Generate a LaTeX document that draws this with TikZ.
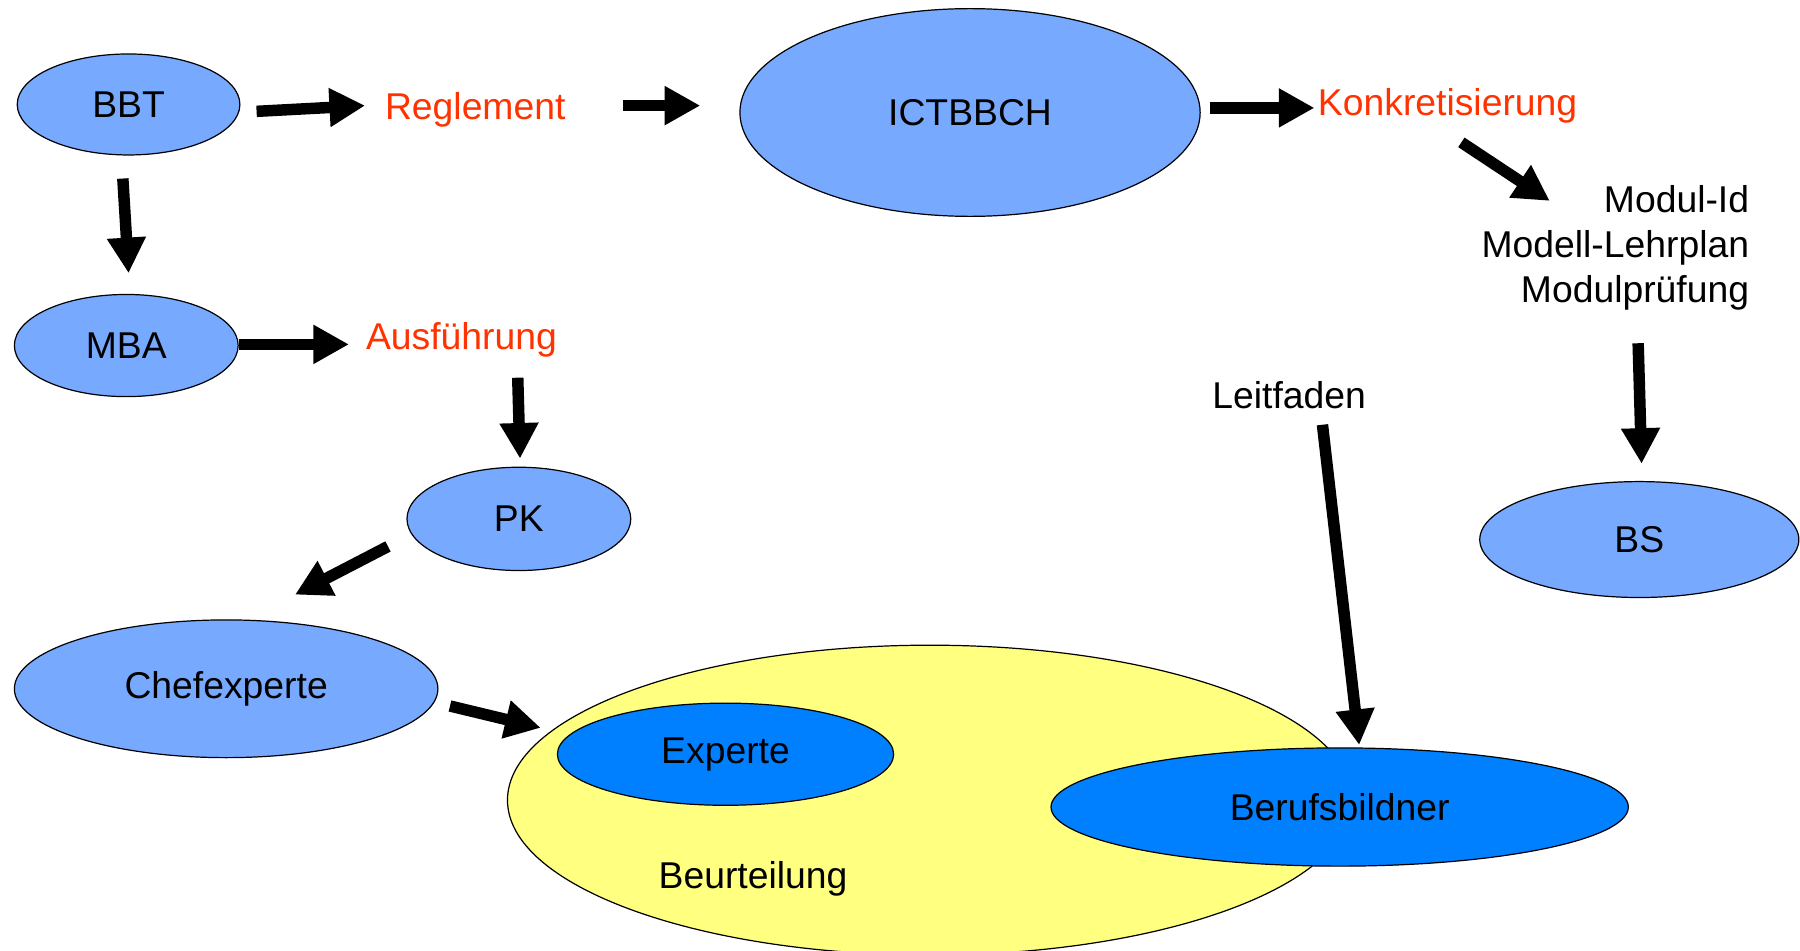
\documentclass[tikz,border=0pt]{standalone}
\usepackage{fontspec}
\setmainfont{Liberation Sans}
\usetikzlibrary{shapes.geometric,arrows.meta,calc}
\definecolor{lightblue}{RGB}{119,170,255}
\definecolor{darkblue}{RGB}{0,128,255}
\definecolor{paleyellow}{RGB}{255,255,128}
\definecolor{redorange}{RGB}{255,51,0}
\begin{document}
\begin{tikzpicture}[x=0.02cm, y=-0.02cm,
        font=\fontsize{18.5}{22.2}\selectfont,
        blob/.style={ellipse, draw, line width=0.6pt, inner sep=0pt},
        lightnode/.style={blob, fill=lightblue},
        darknode/.style={blob, fill=darkblue},
        redtext/.style={text=redorange, inner sep=0pt},
        plaintext/.style={inner sep=0pt},
        fatarrow/.style={line width=0.2cm, -{Triangle[length=0.62cm, width=0.64cm]}}]
        \clip (0, 0) rectangle (1568, 828);
        \node [lightnode, minimum width=3.88cm, minimum height=1.76cm] (bbt) at (112, 91) {BBT};
        \node [redtext] (regl) at (414, 96) {Reglement};
        \node [lightnode, minimum width=8.02cm, minimum height=3.62cm] (ict) at (845, 98) {ICTBBCH};
        \node [redtext] (konk) at (1261, 92) {Konkretisierung};
        \node [plaintext, align=right, anchor=east] (modul) at (1524, 216)
            {Modul-Id\\Modell-Lehrplan\\Modulprüfung};
        \node [lightnode, minimum width=5.56cm, minimum height=2.02cm] (bs) at (1428, 470) {BS};
        \node [lightnode, minimum width=3.9cm, minimum height=1.78cm] (mba) at (110, 301) {MBA};
        \node [redtext] (ausf) at (402, 296) {Ausführung};
        \node [lightnode, minimum width=3.9cm, minimum height=1.8cm] (pk) at (452, 452) {PK};
        \node [lightnode, minimum width=7.38cm, minimum height=2.4cm] (chef) at (197, 600) {Chefexperte};
        \node [plaintext] (leit) at (1123, 344) {Leitfaden};
        \node [blob, fill=paleyellow, minimum width=14.72cm, minimum height=5.4cm] (beurt) at (810, 697) {};
        \node [plaintext] (beurtlabel) at (656, 766) {Beurteilung};
        \node [darknode, minimum width=5.86cm, minimum height=1.78cm] (exp) at (632, 657) {Experte};
        \node [darknode, minimum width=10.06cm, minimum height=2.06cm] (bb) at (1167, 703) {Berufsbildner};
        \draw [fatarrow] ($(bbt.east)+(14, 6)$) -- ($(regl.center)+(-96, -4)$);
        \draw [fatarrow] ($(regl.center)+(129, -4)$) -- ($(ict.west)+(-34, -6)$);
        \draw [fatarrow] ($(ict.east)+(8, -4)$) -- ($(konk.center)+(-116, 2)$);
        \draw [fatarrow] ($(konk.center)+(12, 32)$) -- ($(modul.east)+(-174, -41)$);
        \draw [fatarrow] ($(modul.east)+(-97, 83)$) -- ($(bs.north)+(2, -15)$);
        \draw [fatarrow] ($(bbt.south)+(-5, 20)$) -- ($(mba.north)+(2, -18)$);
        \draw [fatarrow] ($(mba.east)+(0, -1)$) -- ($(ausf.center)+(-98, 4)$);
        \draw [fatarrow] ($(ausf.center)+(49, 33)$) -- ($(pk.north)+(1, -7)$);
        \draw [fatarrow] ($(pk.center)+(-114, 24)$) -- ($(chef.center)+(60, -82)$);
        \draw [fatarrow] ($(chef.east)+(10, 15)$) -- ($(beurt.center)+(-339, -63)$);
        \draw [fatarrow] ($(leit.center)+(29, 26)$) -- ($(bb.north)+(17, -2)$);
    \end{tikzpicture}
\end{document}
